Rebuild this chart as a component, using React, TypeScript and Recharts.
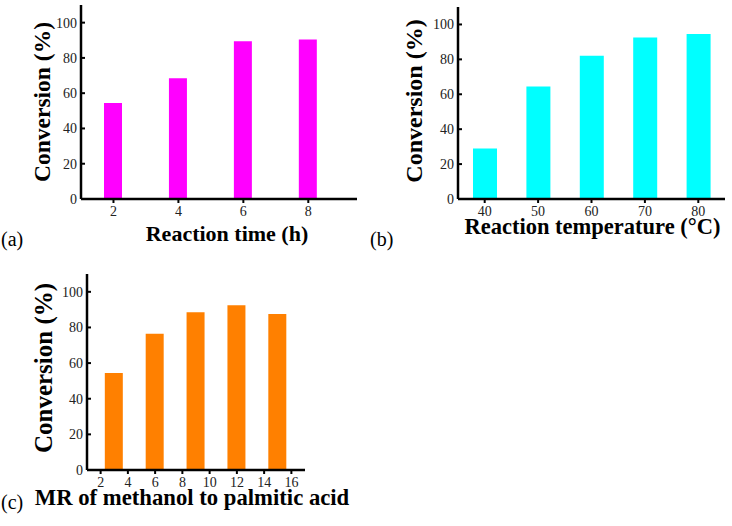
import React from "react";
import { BarChart, Bar, XAxis, YAxis } from "recharts";

// (a) reaction time
const timeHours = [2, 4, 6, 8];
const timeConversion = [54.5, 68.5, 89.5, 90.5];
const timeTicks = [2, 4, 6, 8];

// (b) reaction temperature
const tempC = [40, 50, 60, 70, 80];
const tempConversion = [29, 64.5, 82, 92.5, 94.5];
const tempTicks = [40, 50, 60, 70, 80];

// (c) molar ratio methanol : palmitic acid
const molarRatio = [3, 6, 9, 12, 15];
const ratioConversion = [54.5, 76.5, 88.5, 92.5, 87.5];
const ratioTicks = [2, 4, 6, 8, 10, 12, 14, 16];

const yTicks = [0, 20, 40, 60, 80, 100];

const FONT = "'Liberation Serif', 'Times New Roman', serif";
const tickStyle = { fill: "#222", fontSize: 14, fontFamily: FONT };
const titleStyle = { fontWeight: 700, fontFamily: FONT, fill: "#000" };

type PanelProps = {
    left: number;
    top: number;
    width: number;
    height: number;
    margin: { top: number; right: number; bottom: number; left: number };
    yAxisWidth: number;
    xs: number[];
    ys: number[];
    xDomain: [number, number];
    xTicks: number[];
    barSize: number;
    color: string;
    xTitle: string;
    xTitleSize: number;
    xTitleDx: number;
    xTitleBase: number;
    yTitleSize: number;
    yTitleX: number;
    yTitleDy: number;
};

function Panel(p: PanelProps) {
    const data = p.xs.map((x, i) => ({ x, conv: p.ys[i] }));

    const renderXTitle = (props: any) => {
        const { x, y, width } = props.viewBox;
        return (
            <text
                x={x + width / 2 + p.xTitleDx}
                y={y + p.xTitleBase}
                textAnchor="middle"
                style={{ ...titleStyle, fontSize: p.xTitleSize }}
            >
                {p.xTitle}
            </text>
        );
    };

    const renderYTitle = (props: any) => {
        const { x, y, height } = props.viewBox;
        const bx = x + p.yTitleX;
        const cy = y + height / 2 + p.yTitleDy;
        return (
            <text
                x={bx}
                y={cy}
                transform={`rotate(-90, ${bx}, ${cy})`}
                textAnchor="middle"
                style={{ ...titleStyle, fontSize: p.yTitleSize }}
            >
                Conversion (%)
            </text>
        );
    };

    return (
        <div style={{ position: "absolute", left: p.left, top: p.top }}>
            <BarChart width={p.width} height={p.height} data={data} margin={p.margin}>
                <XAxis
                    dataKey="x"
                    type="number"
                    domain={p.xDomain}
                    ticks={p.xTicks}
                    allowDataOverflow
                    height={56}
                    axisLine={{ stroke: "#000", strokeWidth: 2.5 }}
                    tickLine={{ stroke: "#000", strokeWidth: 2 }}
                    tickSize={4}
                    tickMargin={3}
                    tick={tickStyle}
                    label={{ content: renderXTitle }}
                />
                <XAxis xAxisId="frame" orientation="top" type="number" domain={[0, 1]} height={0} tick={false} tickLine={false} axisLine={{ stroke: "#000", strokeWidth: 2.5 }} />
                <YAxis
                    type="number"
                    domain={[0, 110]}
                    ticks={yTicks}
                    allowDataOverflow
                    width={p.yAxisWidth}
                    axisLine={{ stroke: "#000", strokeWidth: 2.5 }}
                    tickLine={{ stroke: "#000", strokeWidth: 2 }}
                    tickSize={-4}
                    tickMargin={8}
                    tick={tickStyle}
                    label={{ content: renderYTitle }}
                />
                <YAxis yAxisId="frame" orientation="right" type="number" domain={[0, 1]} width={0} tick={false} tickLine={false} axisLine={{ stroke: "#000", strokeWidth: 2.5 }} />
                <Bar dataKey="conv" fill={p.color} barSize={p.barSize} isAnimationActive={false} />
            </BarChart>
        </div>
    );
}

function PanelLetter({ text, x, y }: { text: string; x: number; y: number }) {
    return (
        <text x={x} y={y} style={{ fontSize: 20, fontFamily: FONT, fill: "#000" }}>
            {text}
        </text>
    );
}

export default function App() {
    return (
        <div style={{ position: "absolute", left: 0, top: 0, width: 732, height: 526, background: "#fff" }}>
            <Panel
                left={0}
                top={0}
                width={370}
                height={255}
                margin={{ top: 5, right: 13, bottom: 0, left: 0 }}
                yAxisWidth={81}
                xs={timeHours}
                ys={timeConversion}
                xDomain={[1, 9.5]}
                xTicks={timeTicks}
                barSize={18}
                color="#ff00ff"
                xTitle="Reaction time (h)"
                xTitleSize={22}
                xTitleDx={8}
                xTitleBase={42}
                yTitleSize={23.5}
                yTitleX={50}
                yTitleDy={0}
            />
            <Panel
                left={370}
                top={0}
                width={362}
                height={255}
                margin={{ top: 7, right: 7, bottom: 0, left: 0 }}
                yAxisWidth={88}
                xs={tempC}
                ys={tempConversion}
                xDomain={[35, 85]}
                xTicks={tempTicks}
                barSize={24}
                color="#00ffff"
                xTitle="Reaction temperature (°C)"
                xTitleSize={22.5}
                xTitleDx={1}
                xTitleBase={35}
                yTitleSize={24}
                yTitleX={52}
                yTitleDy={-2}
            />
            <Panel
                left={0}
                top={260}
                width={370}
                height={266}
                margin={{ top: 14, right: 65, bottom: 0, left: 0 }}
                yAxisWidth={87}
                xs={molarRatio}
                ys={ratioConversion}
                xDomain={[1, 17]}
                xTicks={ratioTicks}
                barSize={18}
                color="#ff8000"
                xTitle="MR of methanol to palmitic acid"
                xTitleSize={22.7}
                xTitleDx={-4}
                xTitleBase={35}
                yTitleSize={25}
                yTitleX={52}
                yTitleDy={-4}
            />
            <svg width={732} height={526} style={{ position: "absolute", left: 0, top: 0, pointerEvents: "none" }}>
                <PanelLetter text="(a)" x={1} y={246} />
                <PanelLetter text="(b)" x={370} y={246} />
                <PanelLetter text="(c)" x={1} y={509} />
            </svg>
        </div>
    );
}
